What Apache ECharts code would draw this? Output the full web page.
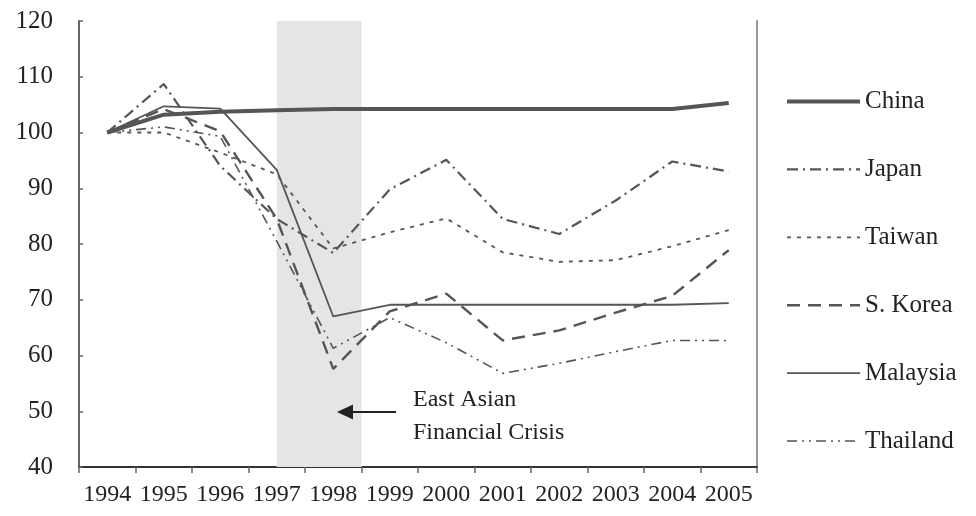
<!DOCTYPE html>
<html>
<head>
<meta charset="utf-8">
<script src="https://cdn.jsdelivr.net/npm/echarts@6/dist/echarts.min.js"></script>
<style>html,body{margin:0;padding:0;background:#fff}#c{width:976px;height:516px}</style>
</head>
<body>
<div id="c"></div>
<script>
var years = ['1994','1995','1996','1997','1998','1999','2000','2001','2002','2003','2004','2005'];
var china    = [100, 103.2, 103.7, 104.0, 104.2, 104.2, 104.2, 104.2, 104.2, 104.2, 104.2, 105.3];
var japan    = [100, 108.7, 94.0, 84.5, 78.4, 89.8, 95.1, 84.5, 81.8, 87.8, 94.8, 93.0];
var taiwan   = [100, 100.0, 96.4, 92.5, 79.2, 82.1, 84.6, 78.5, 76.8, 77.1, 79.6, 82.5];
var korea    = [100, 104.2, 100.2, 84.5, 57.6, 67.9, 71.1, 62.7, 64.5, 67.7, 70.7, 78.9];
var malaysia = [100, 104.7, 104.3, 93.3, 67.0, 69.1, 69.1, 69.1, 69.1, 69.1, 69.1, 69.4];
var thailand = [100, 101.0, 99.3, 80.5, 61.3, 66.8, 62.3, 56.8, 58.6, 60.7, 62.7, 62.7];
var yTicks = {min: 40, max: 120, interval: 10};
var crisisSpan = [3.5, 5];

var C = '#555555';
var FONT = 'Liberation Serif';
var styles = {
  'China':    {width: 4,   type: 'solid'},
  'Japan':    {width: 2.2, type: [11, 5, 2, 5]},
  'Taiwan':   {width: 1.8, type: [4, 6]},
  'S. Korea': {width: 2.4, type: [13, 8]},
  'Malaysia': {width: 1.8, type: 'solid'},
  'Thailand': {width: 1.6, type: [10, 5, 2, 5, 2, 5]}
};
function line(name, data) {
  return {
    name: name, type: 'line', data: data, symbol: 'none', xAxisIndex: 0, yAxisIndex: 0,
    lineStyle: {color: C, width: styles[name].width, type: styles[name].type}, itemStyle: {color: C},
    z: 3, silent: true
  };
}
var legendNames = ['China', 'Japan', 'Taiwan', 'S. Korea', 'Malaysia', 'Thailand'];
var chart = echarts.init(document.getElementById('c'));
chart.setOption({
  animation: false,
  backgroundColor: '#ffffff',
  grid: {left: 79, right: 219, top: 21, bottom: 49, containLabel: false},
  xAxis: [{
    type: 'category', data: years, boundaryGap: true,
    axisLine: {show: true, lineStyle: {color: '#333', width: 2}},
    axisTick: {show: true, inside: false, length: 6, interval: 0, lineStyle: {color: '#666', width: 1.5}},
    axisLabel: {interval: 0, margin: 16, color: '#222', fontFamily: FONT, fontSize: 24},
    splitLine: {show: false}
  }, {
    type: 'value', min: 0, max: 12, show: false
  }],
  yAxis: [{
    type: 'value', min: yTicks.min, max: yTicks.max, interval: yTicks.interval,
    axisLine: {show: true, lineStyle: {color: '#666', width: 2}},
    axisTick: {show: true, inside: true, length: 4, lineStyle: {color: '#666', width: 1.5}},
    axisLabel: {margin: 26, color: '#222', fontFamily: FONT, fontSize: 25},
    splitLine: {show: false}
  }, {
    type: 'value', min: yTicks.min, max: yTicks.max, position: 'right',
    axisLine: {show: true, lineStyle: {color: '#999', width: 2}},
    axisTick: {show: false}, axisLabel: {show: false}, splitLine: {show: false}
  }],
  legend: {
    orient: 'vertical', left: 785, top: 89, padding: 0,
    itemWidth: 73, itemHeight: 24, itemGap: 42.9,
    textStyle: {fontFamily: FONT, fontSize: 25, color: '#222'},
    itemStyle: {color: 'rgba(0,0,0,0)', borderColor: 'rgba(0,0,0,0)', borderWidth: 0},
    data: legendNames.map(function (n) {
      return {name: n, itemStyle: {color: 'rgba(0,0,0,0)', borderWidth: 0},
        lineStyle: {color: C, width: styles[n].width, type: styles[n].type}};
    }),
    selectedMode: false
  },
  series: [
    {
      name: 'crisis', type: 'line', xAxisIndex: 1, yAxisIndex: 0, data: [], silent: true, z: 1,
      markArea: {silent: true, itemStyle: {color: '#e5e5e5'},
        data: [[{xAxis: crisisSpan[0]}, {xAxis: crisisSpan[1]}]]}
    },
    line('Thailand', thailand),
    line('Malaysia', malaysia),
    line('S. Korea', korea),
    line('Taiwan', taiwan),
    line('Japan', japan),
    line('China', china)
  ],
  graphic: [
    {type: 'line', shape: {x1: 352, y1: 412, x2: 396, y2: 412}, style: {stroke: '#222', lineWidth: 2}, z: 10},
    {type: 'polygon', shape: {points: [[337, 412], [353, 404.5], [353, 419.5]]}, style: {fill: '#222'}, z: 10},
    {type: 'text', left: 413, top: 388, style: {text: 'East Asian', font: '24px "Liberation Serif"', fill: '#222'}, z: 10},
    {type: 'text', left: 413, top: 421, style: {text: 'Financial Crisis', font: '24px "Liberation Serif"', fill: '#222'}, z: 10}
  ]
});
</script>
</body>
</html>
